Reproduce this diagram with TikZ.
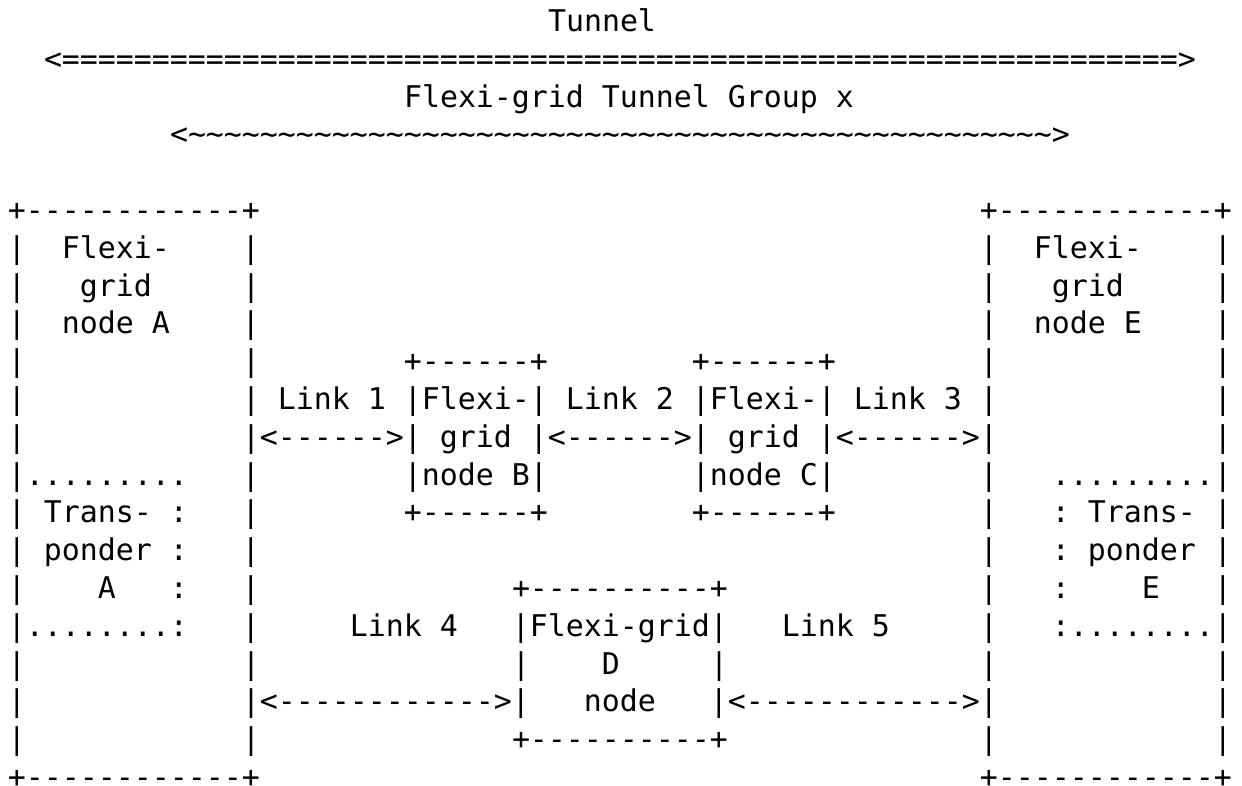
\documentclass[tikz,border=0pt]{standalone}
\usepackage{fontspec}
\setmonofont{DejaVu Sans Mono}
\ExplSyntaxOn
\cs_new:Npn \Rpt #1#2 { \prg_replicate:nn {#1} {#2} }
\ExplSyntaxOff
\newcommand\Gap[1]{\hspace*{#1\fontcharwd\font`0}}
\newcommand\Dsh[1]{\Rpt{#1}{-\kern0pt}}
\newcommand\Tld{\textasciitilde}
\begin{document}
\begin{tikzpicture}[x=0.5pt,y=-0.5pt,
  asc/.style={anchor=base west,inner sep=0pt,outer sep=0pt,text=black,
    font=\ttfamily\fontsize{14.9489}{18}\selectfont\frenchspacing}]
\fill[white] (0,0) rectangle (1242,786);
\useasboundingbox (0,0) rectangle (1242,786);
% title lines
\node[asc] (r0) at (548,{31.5+37.8*0}) {Tunnel};
\node[asc] (r1) at (44,{31.5+37.8*1}) {<\Rpt{62}{=}>};
\node[asc] (r2) at (404,{31.5+37.8*2}) {Flexi-grid Tunnel Group x};
\node[asc] (r3) at (170,{31.5+37.8*3}) {<\Rpt{48}{\Tld}>};
% box rows
\node[asc] (r5) at (8,{31.5+37.8*5}) {+\Dsh{12}+\Gap{40}+\Dsh{12}+};
\node[asc] (r6) at (8,{31.5+37.8*6}) {|\Gap{2}Flexi-\Gap{4}|\Gap{40}|\Gap{2}Flexi-\Gap{4}|};
\node[asc] (r7) at (8,{31.5+37.8*7}) {|\Gap{3}grid\Gap{5}|\Gap{40}|\Gap{3}grid\Gap{5}|};
\node[asc] (r8) at (8,{31.5+37.8*8}) {|\Gap{2}node\Gap{1}A\Gap{4}|\Gap{40}|\Gap{2}node\Gap{1}E\Gap{4}|};
\node[asc] (r9) at (8,{31.5+37.8*9}) {|\Gap{12}|\Gap{8}+\Dsh{6}+\Gap{8}+\Dsh{6}+\Gap{8}|\Gap{12}|};
\node[asc] (r10) at (8,{31.5+37.8*10}) {|\Gap{12}|\Gap{1}Link\Gap{1}1\Gap{1}|Flexi-|\Gap{1}Link\Gap{1}2\Gap{1}|Flexi-|\Gap{1}Link\Gap{1}3\Gap{1}|\Gap{12}|};
\node[asc] (r11) at (8,{31.5+37.8*11}) {|\Gap{12}|<\Dsh{6}>|\Gap{1}grid\Gap{1}|<\Dsh{6}>|\Gap{1}grid\Gap{1}|<\Dsh{6}>|\Gap{12}|};
\node[asc] (r12) at (8,{31.5+37.8*12}) {|\Rpt{9}{.}\Gap{3}|\Gap{8}|node\Gap{1}B|\Gap{8}|node\Gap{1}C|\Gap{8}|\Gap{3}\Rpt{9}{.}|};
\node[asc] (r13) at (8,{31.5+37.8*13}) {|\Gap{1}Trans-\Gap{1}:\Gap{3}|\Gap{8}+\Dsh{6}+\Gap{8}+\Dsh{6}+\Gap{8}|\Gap{3}:\Gap{1}Trans-\Gap{1}|};
\node[asc] (r14) at (8,{31.5+37.8*14}) {|\Gap{1}ponder\Gap{1}:\Gap{3}|\Gap{40}|\Gap{3}:\Gap{1}ponder\Gap{1}|};
\node[asc] (r15) at (8,{31.5+37.8*15}) {|\Gap{4}A\Gap{3}:\Gap{3}|\Gap{14}+\Dsh{10}+\Gap{14}|\Gap{3}:\Gap{4}E\Gap{3}|};
\node[asc] (r16) at (8,{31.5+37.8*16}) {|\Rpt{8}{.}:\Gap{3}|\Gap{5}Link\Gap{1}4\Gap{3}|Flexi-grid|\Gap{3}Link\Gap{1}5\Gap{5}|\Gap{3}:\Rpt{8}{.}|};
\node[asc] (r17) at (8,{31.5+37.8*17}) {|\Gap{12}|\Gap{14}|\Gap{4}D\Gap{5}|\Gap{14}|\Gap{12}|};
\node[asc] (r18) at (8,{31.5+37.8*18}) {|\Gap{12}|<\Dsh{12}>|\Gap{3}node\Gap{3}|<\Dsh{12}>|\Gap{12}|};
\node[asc] (r19) at (8,{31.5+37.8*19}) {|\Gap{12}|\Gap{14}+\Dsh{10}+\Gap{14}|\Gap{12}|};
\node[asc] (r20) at (8,{31.5+37.8*20}) {+\Dsh{12}+\Gap{40}+\Dsh{12}+};
\end{tikzpicture}
\end{document}
